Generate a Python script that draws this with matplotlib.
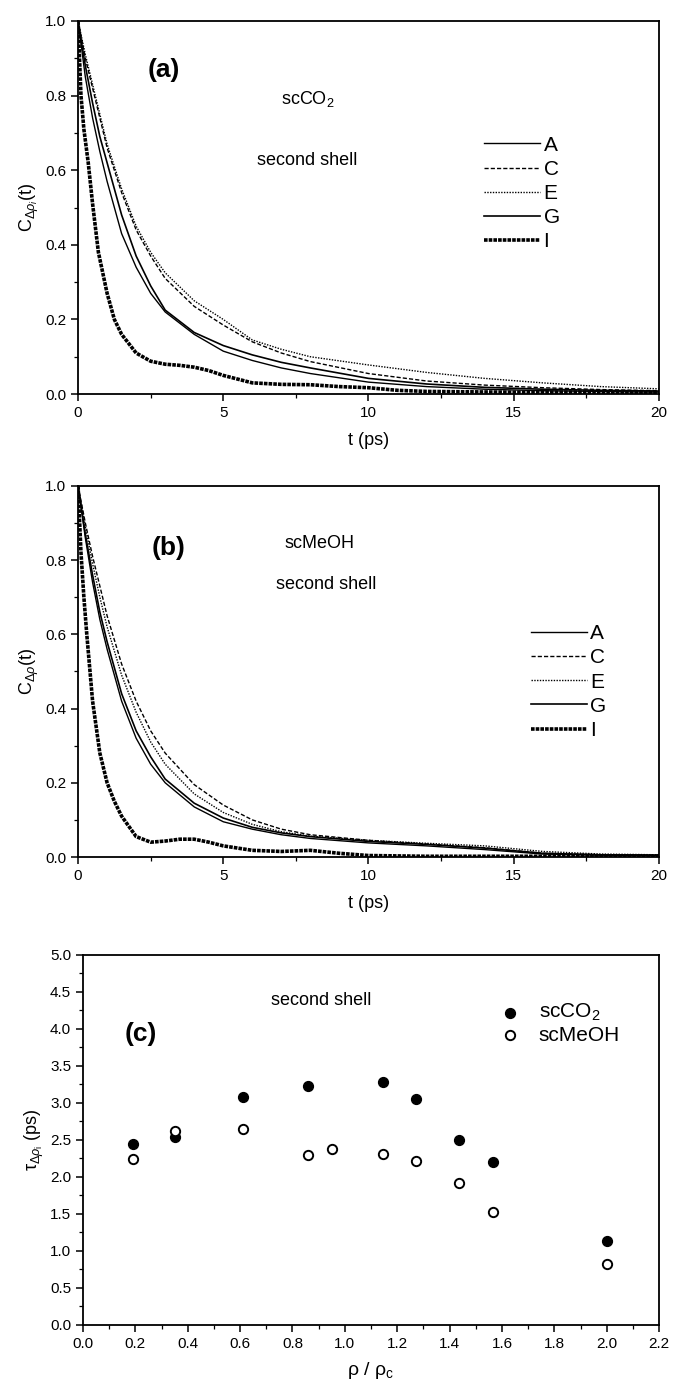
import matplotlib

matplotlib.use("Agg")

import matplotlib.pyplot as plt
from matplotlib.ticker import MultipleLocator

plt.rcParams["font.family"] = ["Liberation Sans", "DejaVu Sans"]
plt.rcParams["mathtext.fontset"] = "custom"
plt.rcParams["mathtext.rm"] = "Liberation Sans"
plt.rcParams["mathtext.it"] = "Liberation Sans:italic"

# panel (a): scCO2, second shell
t_fast = [0, 0.1, 0.2, 0.35, 0.5, 0.7, 1.0, 1.25, 1.5, 2.0, 2.5, 3, 3.5, 4, 4.5,
          5, 5.5, 6, 7, 8, 9, 10, 11, 12, 15, 20]
t_slow = [0, 0.25, 0.5, 0.75, 1, 1.5, 2, 2.5, 3, 4, 5, 6, 7, 8, 10, 12, 14, 16, 18, 20]

co2_A = [1.0, 0.85, 0.74, 0.65, 0.57, 0.43, 0.34, 0.27, 0.22, 0.16, 0.115, 0.09,
         0.07, 0.055, 0.032, 0.02, 0.013, 0.009, 0.007, 0.005]
co2_C = [1.0, 0.9, 0.82, 0.74, 0.66, 0.54, 0.44, 0.37, 0.31, 0.235, 0.185, 0.14,
         0.11, 0.087, 0.055, 0.035, 0.024, 0.017, 0.012, 0.009]
co2_E = [1.0, 0.91, 0.83, 0.75, 0.67, 0.55, 0.45, 0.38, 0.325, 0.25, 0.2, 0.145,
         0.12, 0.1, 0.078, 0.058, 0.042, 0.03, 0.02, 0.014]
co2_G = [1.0, 0.88, 0.78, 0.69, 0.62, 0.48, 0.37, 0.29, 0.225, 0.165, 0.13, 0.105,
         0.085, 0.07, 0.042, 0.027, 0.018, 0.013, 0.01, 0.008]
co2_I = [1.0, 0.8, 0.71, 0.62, 0.51, 0.38, 0.27, 0.2, 0.16, 0.11, 0.088, 0.08,
         0.077, 0.072, 0.063, 0.05, 0.04, 0.03, 0.026, 0.025, 0.02, 0.017, 0.01,
         0.007, 0.005, 0.005]

# panel (b): scMeOH, second shell
t_fast_b = [0, 0.1, 0.2, 0.3, 0.5, 0.75, 1.0, 1.25, 1.5, 2.0, 2.5, 3, 3.5, 4, 4.5,
            5, 6, 7, 8, 9, 10, 12, 15, 20]
meoh_A = [1.0, 0.86, 0.74, 0.64, 0.56, 0.42, 0.32, 0.25, 0.2, 0.135, 0.095, 0.075,
          0.06, 0.05, 0.038, 0.03, 0.02, 0.008, 0.005, 0.004]
meoh_C = [1.0, 0.9, 0.81, 0.73, 0.65, 0.52, 0.42, 0.34, 0.28, 0.195, 0.14, 0.1,
          0.075, 0.06, 0.045, 0.035, 0.025, 0.01, 0.006, 0.005]
meoh_E = [1.0, 0.89, 0.79, 0.7, 0.62, 0.49, 0.39, 0.31, 0.25, 0.17, 0.12, 0.088,
          0.068, 0.056, 0.045, 0.037, 0.03, 0.015, 0.008, 0.006]
meoh_G = [1.0, 0.87, 0.76, 0.66, 0.58, 0.44, 0.34, 0.27, 0.21, 0.145, 0.105, 0.08,
          0.065, 0.055, 0.042, 0.034, 0.024, 0.01, 0.006, 0.005]
meoh_I = [1.0, 0.82, 0.7, 0.6, 0.42, 0.28, 0.2, 0.15, 0.11, 0.055, 0.04, 0.043,
          0.048, 0.048, 0.04, 0.03, 0.018, 0.015, 0.018, 0.01, 0.004, 0.002, 0.002,
          0.002]

# panel (c): relaxation times vs reduced density
rho_co2 = [0.19, 0.35, 0.61, 0.86, 1.145, 1.27, 1.435, 1.565, 2.0]
tau_co2 = [2.45, 2.54, 3.08, 3.23, 3.28, 3.05, 2.50, 2.20, 1.13]
rho_meoh = [0.19, 0.35, 0.61, 0.86, 0.95, 1.145, 1.27, 1.435, 1.565, 2.0]
tau_meoh = [2.24, 2.62, 2.65, 2.30, 2.38, 2.31, 2.21, 1.92, 1.52, 0.83]

labels = ["A", "C", "E", "G", "I"]
styles = [
    dict(color="black", lw=1.0, ls="-"),
    dict(color="black", lw=1.0, ls=(0, (3, 1.5))),
    dict(color="black", lw=1.0, ls=(0, (1, 1))),
    dict(color="black", lw=1.2, ls="-"),
    dict(color="black", lw=2.6, ls=(0, (1, 0.3))),
]


def style_axis(ax):
    for side in ("left", "bottom", "top", "right"):
        ax.spines[side].set_linewidth(1.3)
    ax.tick_params(which="both", direction="out", top=False, right=False,
                   labelsize=11)
    ax.tick_params(which="major", length=5, width=1.1)
    ax.tick_params(which="minor", length=3, width=0.9)


def decay_panel(ax, curves_slow, t_i, curve_i, letter, solvent, legend_anchor,
                ylabel, letter_pos, solvent_pos, shell_pos):
    for lab, sty, ys in zip(labels[:4], styles[:4], curves_slow):
        ax.plot(t_slow, ys, label=lab, **sty)
    ax.plot(t_i, curve_i, label="I", **styles[4])
    ax.set_xlim(0, 20)
    ax.set_ylim(0, 1.0)
    ax.xaxis.set_major_locator(MultipleLocator(5))
    ax.xaxis.set_minor_locator(MultipleLocator(2.5))
    ax.yaxis.set_major_locator(MultipleLocator(0.2))
    ax.yaxis.set_minor_locator(MultipleLocator(0.1))
    ax.yaxis.set_major_formatter(plt.FormatStrFormatter("%.1f"))
    style_axis(ax)
    ax.set_xlabel("t (ps)", fontsize=13, labelpad=9)
    ax.set_ylabel(ylabel, fontsize=13, labelpad=3)
    ax.text(*letter_pos, letter, fontsize=19, fontweight="bold",
            ha="center", va="center")
    ax.text(*solvent_pos, solvent, fontsize=13, ha="center", va="center")
    ax.text(*shell_pos, "second shell", fontsize=13, ha="center", va="center")
    ax.legend(frameon=False, loc="upper left", bbox_to_anchor=legend_anchor,
              fontsize=15, handlelength=2.7, handletextpad=0.15,
              labelspacing=0.25, borderaxespad=0)


fig = plt.figure(figsize=(6.73, 13.89), dpi=100, facecolor="white")

ax_a = fig.add_axes((0.116, 0.7163, 0.863, 0.2686))
decay_panel(ax_a, [co2_A, co2_C, co2_E, co2_G], t_fast, co2_I, "(a)",
            r"scCO$_2$", (0.685, 0.715), r"C$_{\Delta\rho_i}$(t)",
            (2.95, 0.868), (7.9, 0.79), (7.9, 0.627))

ax_b = fig.add_axes((0.116, 0.383, 0.863, 0.2672))
decay_panel(ax_b, [meoh_A, meoh_C, meoh_E, meoh_G], t_fast_b, meoh_I, "(b)",
            "scMeOH", (0.765, 0.65), r"C$_{\Delta\rho}$(t)",
            (3.1, 0.832), (8.3, 0.845), (8.55, 0.733))

ax_c = fig.add_axes((0.1233, 0.0461, 0.856, 0.2664))
ax_c.scatter(rho_co2, tau_co2, s=50, facecolor="black", edgecolor="black",
             linewidths=1.0, label=r"scCO$_2$", zorder=3)
ax_c.scatter(rho_meoh, tau_meoh, s=45, facecolor="white", edgecolor="black",
             linewidths=1.4, label="scMeOH", zorder=3)
ax_c.set_xlim(0, 2.2)
ax_c.set_ylim(0, 5.0)
ax_c.xaxis.set_major_locator(MultipleLocator(0.2))
ax_c.xaxis.set_minor_locator(MultipleLocator(0.1))
ax_c.yaxis.set_major_locator(MultipleLocator(0.5))
ax_c.yaxis.set_minor_locator(MultipleLocator(0.25))
ax_c.xaxis.set_major_formatter(plt.FormatStrFormatter("%.1f"))
ax_c.yaxis.set_major_formatter(plt.FormatStrFormatter("%.1f"))
style_axis(ax_c)
ax_c.set_xlabel(r"ρ / ρ$_\mathrm{c}$", fontsize=14, labelpad=7)
ax_c.set_ylabel(r"τ$_{\Delta\rho_\mathrm{i}}$ (ps)", fontsize=13, labelpad=3)
ax_c.text(0.22, 3.93, "(c)", fontsize=19, fontweight="bold",
          ha="center", va="center")
ax_c.text(0.91, 4.39, "second shell", fontsize=13, ha="center", va="center")
ax_c.legend(frameon=False, loc="upper left", bbox_to_anchor=(0.69, 0.895),
            fontsize=15, handletextpad=0.4, labelspacing=0.1, borderaxespad=0,
            scatterpoints=1)

fig.savefig("out.png", dpi=100, facecolor="white")
